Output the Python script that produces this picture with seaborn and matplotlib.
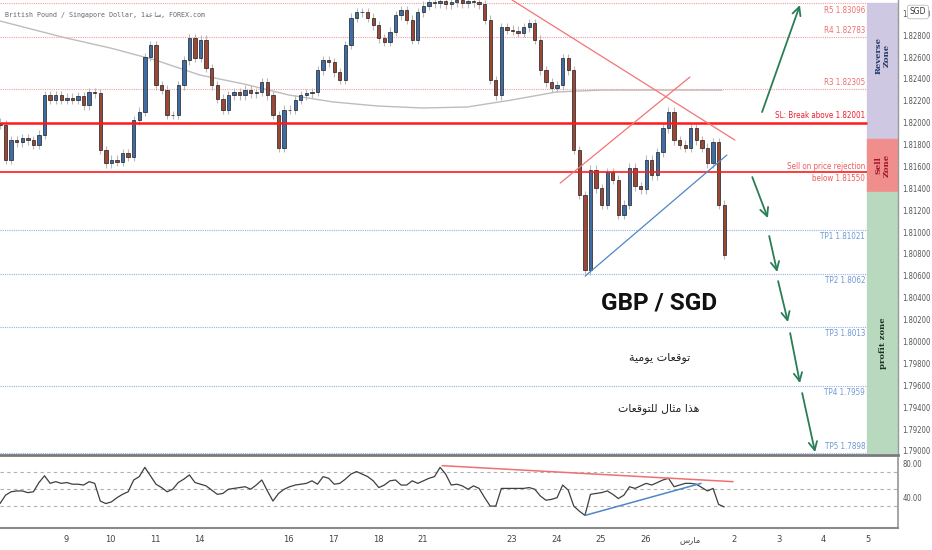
import matplotlib
matplotlib.use("Agg")
import matplotlib.pyplot as plt
from matplotlib.patches import Rectangle
import numpy as np
import pandas as pd
import seaborn as sns

# ---- data (3h candles, close prices) ----
first_open = 1.8200
closes = [
    1.8198, 1.8166, 1.8184, 1.8182, 1.8186, 1.8184, 1.8180, 1.8189, 1.8225, 1.8221,
    1.8225, 1.8221, 1.8223, 1.8221, 1.8224, 1.8216, 1.8228, 1.8227, 1.8175, 1.8163,
    1.8166, 1.8164, 1.8172, 1.8169, 1.8202, 1.8210, 1.8260, 1.8271, 1.8234, 1.8230,
    1.8207, 1.8207, 1.8234, 1.8257, 1.8277, 1.8259, 1.8276, 1.8250, 1.8234, 1.8222,
    1.8212, 1.8225, 1.8228, 1.8225, 1.8230, 1.8227, 1.8228, 1.8237, 1.8225, 1.8207,
    1.8177, 1.8212, 1.8212, 1.8221, 1.8225, 1.8227, 1.8228, 1.8248, 1.8257, 1.8255,
    1.8246, 1.8239, 1.8271, 1.8296, 1.8301, 1.8301, 1.8296, 1.8289, 1.8277, 1.8274,
    1.8283, 1.8298, 1.8303, 1.8294, 1.8276, 1.8301, 1.8307, 1.8310, 1.8309, 1.8311,
    1.8308, 1.8310, 1.8312, 1.8309, 1.8311, 1.8310, 1.8308, 1.8294, 1.8239, 1.8225,
    1.8287, 1.8285, 1.8284, 1.8282, 1.8287, 1.8291, 1.8276, 1.8248, 1.8237, 1.8232,
    1.8234, 1.8259, 1.8248, 1.8175, 1.8134, 1.8065, 1.8157, 1.8140, 1.8125, 1.8155,
    1.8148, 1.8116, 1.8125, 1.8159, 1.8142, 1.8139, 1.8166, 1.8152, 1.8173, 1.8195,
    1.8210, 1.8184, 1.8180, 1.8177, 1.8195, 1.8184, 1.8177, 1.8163, 1.8182, 1.8125,
    1.8079,
]
rsi_values = [
    33, 43, 47, 48, 48, 46, 47, 58, 66, 57, 59, 57, 58, 56, 56, 55, 59, 57, 36, 33,
    35, 40, 44, 47, 61, 65, 76, 66, 56, 52, 47, 50, 58, 62, 67, 58, 56, 54, 49, 44,
    45, 50, 51, 52, 53, 50, 55, 61, 48, 36, 45, 50, 53, 55, 56, 57, 60, 56, 65, 63,
    56, 57, 62, 68, 71, 68, 65, 60, 52, 55, 60, 61, 55, 55, 60, 57, 60, 63, 65, 76,
    68, 55, 56, 54, 50, 54, 51, 40, 30, 30, 51, 51, 51, 51, 51, 52, 50, 42, 37, 38,
    40, 55, 49, 30, 24, 19, 44, 45, 46, 48, 44, 39, 43, 53, 51, 54, 57, 55, 58, 61,
    63, 53, 55, 57, 57, 56, 52, 48, 51, 32, 29,
]
sma_days = [-1.48, 0, 1, 2, 3, 4, 5, 6, 7, 8, 9, 10, 11, 12, 13, 14, 14.72]
sma_values = [1.82929, 1.82774, 1.82682, 1.82573, 1.82436, 1.82353, 1.82253, 1.82189,
              1.82152, 1.82134, 1.82143, 1.82207, 1.82280, 1.82298, 1.82298, 1.82298, 1.82298]

# day ticks (trading-day index) and labels
hour_ar = "\ufe94\ufecb\ufe8e\ufeb3"          # ساعة
march_ar = "\ufeb1\ufead\ufe8e\ufee3"         # مارس
tick_days = [0, 1, 2, 3, 5, 6, 7, 8, 10, 11, 12, 13, 14, 15, 16, 17, 18]
tick_labels = ["9", "10", "11", "14", "16", "17", "18", "21", "23", "24", "25", "26",
               march_ar, "2", "3", "4", "5"]

resist_levels = [1.83096, 1.82783, 1.82305]
resist_labels = ["R5 1.83096", "R4 1.82783", "R3 1.82305"]
sl_level = 1.82001
sell_level = 1.81550
tp_levels = [1.81021, 1.8062, 1.8013, 1.7959, 1.7898]
tp_labels = ["TP1 1.81021", "TP2 1.8062", "TP3 1.8013", "TP4 1.7959", "TP5 1.7898"]
zone_edges = [1.83096, 1.8185, 1.8137, 1.7898]

# trend lines (day, price) pairs
red_down = ([10.01, 15.01], [1.83121, 1.81841])
red_up = ([11.09, 14.00], [1.81448, 1.82417])
blue_up = ([11.65, 14.83], [1.80598, 1.81704])
rsi_red = ([8.44, 14.97], [78, 59])
rsi_blue = ([11.65, 14.25], [19, 57])

# forecast arrows (start day, start price, end day, end price)
arrows = [
    (15.62, 1.82097, 16.47, 1.83075),
    (15.40, 1.81503, 15.75, 1.81128),
    (15.78, 1.80964, 15.96, 1.80635),
    (15.98, 1.80552, 16.20, 1.80178),
    (16.25, 1.80077, 16.47, 1.79620),
    (16.52, 1.79529, 16.81, 1.78989),
]

candle_start = -1.48
candle_step = 1 / 8

# ---- figure ----
sns.set_theme(style="white")
plt.rcParams["font.family"] = ["DejaVu Sans"]

fig = plt.figure(figsize=(9.32, 5.5), dpi=100)
fig.patch.set_facecolor("white")
ax = fig.add_axes([0, 95 / 550, 898 / 932, 455 / 550])
ax2 = fig.add_axes([0, 22 / 550, 898 / 932, 70 / 550])

x_lo, x_hi = -1.48, 18.67
y_lo, y_hi = 1.78963, 1.83121
zone_x = 17.98
label_x = 17.93
off = 0.0006
lab_kw = dict(ha="right", va="center", fontsize=5.8, family="DejaVu Sans",
              fontstretch="condensed")

# candles
df = pd.DataFrame({
    "t": candle_start + np.arange(len(closes)) * candle_step,
    "open": [first_open] + closes[:-1],
    "close": closes,
})
lo = df[["open", "close"]].min(axis=1)
hi = df[["open", "close"]].max(axis=1)
ax.vlines(df["t"], lo - 0.0004, hi + 0.0004, color="#b8b8b8", lw=0.8, zorder=2)
colors = np.where(df["close"] >= df["open"], "#3d6ca6", "#9c4636")
ax.bar(df["t"], df["close"] - df["open"], bottom=df["open"], width=candle_step * 0.6,
       color=colors, edgecolor="#1e1e1e", linewidth=0.5, zorder=3)

sns.lineplot(x=sma_days, y=sma_values, ax=ax, color="#bdbdbd", lw=1.0, zorder=1)

# levels
for i, (lvl, lab) in enumerate(zip(resist_levels, resist_labels)):
    ax.hlines(lvl, x_lo, zone_x, color="#f3a0a0", lw=0.8, ls=(0, (1, 1)), zorder=1)
    dy = -off - 0.0001 if i == 0 else off
    ax.text(label_x, lvl + dy, lab, color="#ee6e6e", **lab_kw)
ax.hlines(sl_level, x_lo, zone_x, color="#ff1a1a", lw=1.8, zorder=4)
ax.text(label_x, sl_level + off, "SL: Break above 1.82001", color="#f01e2c", **lab_kw)
ax.hlines(sell_level, x_lo, zone_x, color="#ff1a1a", lw=1.2, zorder=4)
ax.text(label_x, sell_level + 0.0005, "Sell on price rejection", color="#f05a5a", **lab_kw)
ax.text(label_x, sell_level - 0.0006, "below 1.81550", color="#f05a5a", **lab_kw)
for i, (lvl, lab) in enumerate(zip(tp_levels, tp_labels)):
    ax.hlines(lvl, x_lo, zone_x, color="#8fb3e8", lw=0.8, ls=(0, (1, 1)), zorder=1)
    dy = off if i == 4 else -off
    ax.text(label_x, lvl + dy, lab, color="#6f98d4", **lab_kw)

# zones
zone_colors = ["#cfc8e2", "#f08e8b", "#b9d9bf"]
zone_texts = ["Reverse\nZone", "Sell\nZone", "profit zone"]
zone_text_colors = ["#27386a", "#a3142a", "#1d3324"]
zone_text_y = [1.82618, 1.81613, 1.79986]
for k in range(3):
    ax.add_patch(Rectangle((zone_x, zone_edges[k + 1]), x_hi - zone_x,
                           zone_edges[k] - zone_edges[k + 1], color=zone_colors[k], zorder=0))
    ax.text((zone_x + x_hi) / 2, zone_text_y[k], zone_texts[k], rotation=90, ha="center",
            va="center", fontsize=6, fontweight="bold", color=zone_text_colors[k],
            linespacing=0.9, family="DejaVu Serif")

# trend lines
ax.plot(*red_down, color="#f27474", lw=0.9, zorder=4)
ax.plot(*red_up, color="#f27474", lw=0.9, zorder=4)
ax.plot(*blue_up, color="#4f86c6", lw=0.9, zorder=4)

for x0, y0, x1, y1 in arrows:
    ax.annotate("", xy=(x1, y1), xytext=(x0, y0),
                arrowprops=dict(arrowstyle="->,head_length=0.5,head_width=0.25",
                                color="#2b7d57", lw=1.3, shrinkA=0, shrinkB=0), zorder=5)

# center texts
daily_ar = "\ufe94\ufef4\ufee3\ufeee\ufef3 \ufe95\ufe8e\ufecc\ufed7\ufeee\ufe97"  # توقعات يومية
example_ar = ("\ufe95\ufe8e\ufecc\ufed7\ufeee\ufe98\ufee0\ufedf \ufedd\ufe8e\ufe9c\ufee3 "
              "\ufe8d\ufeac\ufeeb")  # هذا مثال للتوقعات
ax.text(13.31, 1.80351, "GBP / SGD", ha="center", va="center", fontsize=17.5,
        fontweight="bold", color="#111111", family=["Roboto", "DejaVu Sans"])
ax.text(13.31, 1.79858, daily_ar, ha="center", va="center", fontsize=8, color="#222222")
ax.text(13.31, 1.79392, example_ar, ha="center", va="center", fontsize=7.8, color="#222222")

ax.text(0.006, 0.968, "British Pound / Singapore Dollar, 1" + hour_ar + ", FOREX.com",
        transform=ax.transAxes, ha="left", va="center", fontsize=4.8, color="#666666",
        family=["DejaVu Sans Mono", "DejaVu Sans"])

ax.set_xlim(x_lo, x_hi)
ax.set_ylim(y_lo, y_hi)
ax.yaxis.tick_right()
yt = np.arange(1.790, 1.8301, 0.002)
ax.set_yticks(yt)
ax.set_yticklabels([f"{v:.5f}" for v in yt], fontsize=5.5, color="#555555",
                   fontstretch="condensed")
ax.tick_params(axis="y", length=0, pad=3)
ax.set_xticks([])
for s in ["top", "left"]:
    ax.spines[s].set_visible(False)
ax.spines["right"].set_color("#9a9a9a")
ax.spines["right"].set_linewidth(1)
ax.spines["bottom"].set_color("#7a7a7a")
ax.spines["bottom"].set_linewidth(2)

fig.text(918 / 932, 1 - 12 / 550, "SGD", ha="center", va="center", fontsize=5.5,
         color="#333333", zorder=10,
         bbox=dict(boxstyle="round,pad=0.3", fc="white", ec="#bbbbbb", lw=0.6))

# RSI panel
t_rsi = candle_start + np.arange(len(rsi_values)) * candle_step
sns.lineplot(x=t_rsi, y=rsi_values, ax=ax2, color="#3f3f3f", lw=0.9, zorder=3)
for lvl in [70, 50, 30]:
    ax2.axhline(lvl, color="#b0b0b0", lw=0.8, ls=(0, (3, 3)), zorder=1)
ax2.plot(*rsi_red, color="#f07070", lw=1.1, zorder=4)
ax2.plot(*rsi_blue, color="#4f86c6", lw=1.1, zorder=4)
ax2.set_xlim(x_lo, x_hi)
ax2.set_ylim(4, 87.1)
ax2.yaxis.tick_right()
ax2.set_yticks([40, 80])
ax2.set_yticklabels(["40.00", "80.00"], fontsize=5.5, color="#555555",
                    fontstretch="condensed")
ax2.tick_params(axis="y", length=0, pad=3)
ax2.set_xticks(tick_days)
ax2.set_xticklabels(tick_labels, fontsize=6, color="#444444")
ax2.tick_params(axis="x", length=0, pad=5)
for s in ["top", "left"]:
    ax2.spines[s].set_visible(False)
ax2.spines["right"].set_color("#9a9a9a")
ax2.spines["bottom"].set_color("#8a8a8a")
ax2.spines["bottom"].set_linewidth(1.5)

fig.savefig("out.png", dpi=100)
